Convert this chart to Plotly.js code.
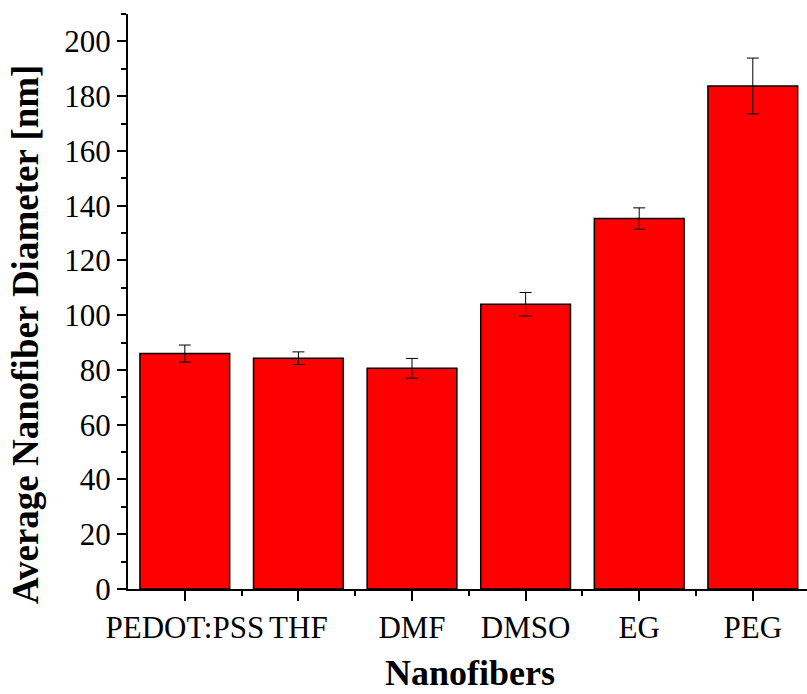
<!DOCTYPE html>
<html>
<head>
<meta charset="utf-8">
<script src="https://cdn.plot.ly/plotly-3.0.1.min.js"></script>
<style>html,body{margin:0;padding:0;background:#fff;}#chart{width:807px;height:694px;}</style>
</head>
<body>
<div id="chart"></div>
<script>
const categories = ["PEDOT:PSS", "THF", "DMF", "DMSO", "EG", "PEG"];
const diameters = [86.0, 84.3, 80.6, 104.0, 135.3, 183.7];
const errors = [3.1, 2.3, 3.6, 4.3, 3.9, 10.2];
const yTickVals = [0, 20, 40, 60, 80, 100, 120, 140, 160, 180, 200];
const xTitle = "Nanofibers";
const yTitle = "Average Nanofiber Diameter [nm]";

const idx = categories.map((c, i) => i);
const serif = "Liberation Serif, Times New Roman, serif";

const trace = {
  type: "bar",
  x: idx,
  y: diameters,
  width: 0.79,
  marker: {color: "#FF0000", line: {color: "#000000", width: 1.5}},
  error_y: {type: "data", array: errors, visible: true, color: "#000000", thickness: 1, width: 6}
};

const layout = {
  width: 807, height: 694,
  margin: {l: 128, r: 0, t: 14, b: 105},
  paper_bgcolor: "#ffffff", plot_bgcolor: "#ffffff",
  showlegend: false,
  font: {family: serif, color: "#000000"},
  xaxis: {
    range: [-0.5, 5.477],
    tickmode: "array",
    tickvals: idx,
    ticktext: categories,
    showline: true, linecolor: "#000000", linewidth: 2,
    ticks: "outside", ticklen: 10, tickwidth: 2, tickcolor: "#000000",
    minor: {tickvals: [0.5, 1.5, 2.5, 3.5, 4.5], ticks: "outside", ticklen: 5, tickwidth: 2, tickcolor: "#000000"},
    showgrid: false, zeroline: false,
    tickfont: {family: serif, size: 31, color: "#000000"}
  },
  yaxis: {
    range: [0, 210],
    tickmode: "array",
    tickvals: yTickVals,
    showline: true, linecolor: "#000000", linewidth: 2,
    ticks: "outside", ticklen: 9, tickwidth: 2, tickcolor: "#000000",
    minor: {tick0: 10, dtick: 20, ticks: "outside", ticklen: 5, tickwidth: 2, tickcolor: "#000000"},
    showgrid: false, zeroline: false,
    tickfont: {family: serif, size: 31, color: "#000000"}
  },
  annotations: [
    {text: "<b>" + yTitle + "</b>", xref: "paper", yref: "paper", x: 0, y: 0,
     xshift: -103, yshift: 254, xanchor: "center", yanchor: "middle", textangle: -90,
     showarrow: false, font: {family: serif, size: 37, color: "#000000"}},
    {text: "<b>" + xTitle + "</b>", xref: "paper", yref: "paper", x: 0.5, y: 0,
     xshift: 2, yshift: -84, xanchor: "center", yanchor: "middle",
     showarrow: false, font: {family: serif, size: 36, color: "#000000"}}
  ]
};

Plotly.newPlot("chart", [trace], layout, {displayModeBar: false, staticPlot: true});
</script>
</body>
</html>
